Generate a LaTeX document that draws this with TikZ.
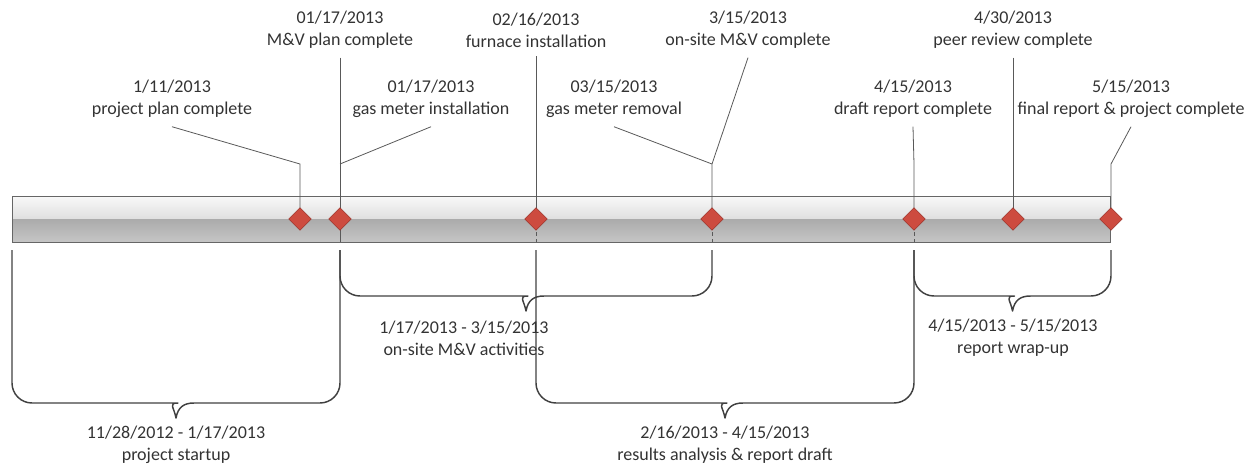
\documentclass[tikz,border=0pt]{standalone}
\usepackage{fontspec}
\setmainfont{Carlito}
\usepackage{tikz}
\usetikzlibrary{shapes.geometric}

\definecolor{msred}{HTML}{CD4B3F}
\definecolor{msedge}{HTML}{9E3128}
\definecolor{txtgray}{HTML}{333333}

\begin{document}
\begin{tikzpicture}[x=0.75pt,y=-0.75pt,
    every node/.style={font=\fontsize{13.5}{16.5}\selectfont,text=txtgray},
    event/.style={align=center,inner sep=6.5pt},
    span/.style={align=center,inner sep=2pt},
    milestone/.style={diamond,aspect=1,draw=msedge,fill=msred,minimum size=17pt,inner sep=0pt},
    leader/.style={draw=black!65,line width=0.6pt},
    bracket/.style={draw=black!75,line width=1.1pt,line join=round}]
    \useasboundingbox (0,0) rectangle (1250,465);

    % Timeline bar
    \shade[top color=gray!5,bottom color=gray!25] (12,196) rectangle (1110,219);
    \shade[top color=gray!66,bottom color=gray!45] (12,219) rectangle (1110,242);
    \draw[gray!80!black,line width=0.5pt] (12,196) rectangle (1110,242);
    \coordinate (barbottom) at (0,242);

    % Milestone positions on the bar
    \coordinate (pplan)    at (300,219);
    \coordinate (pmvplan)  at (340,219);
    \coordinate (pfurnace) at (536,219);
    \coordinate (ponsite)  at (712,219);
    \coordinate (pdraft)   at (914,219);
    \coordinate (ppeer)    at (1013,219);
    \coordinate (pfinal)   at (1111,219);

    % Event labels
    \node[event] (lplan)    at (172,99)  {1/11/2013\\project plan complete};
    \node[event] (lmvplan)  at (340,30)  {01/17/2013\\M\&V plan complete};
    \node[event] (lgasin)   at (431,99)  {01/17/2013\\gas meter installation};
    \node[event] (lfurnace) at (536,30)  {02/16/2013\\furnace installation};
    \node[event] (lgasout)  at (614,99)  {03/15/2013\\gas meter removal};
    \node[event] (lonsite)  at (748,30)  {3/15/2013\\on-site M\&V complete};
    \node[event] (ldraft)   at (913,99)  {4/15/2013\\draft report complete};
    \node[event] (lpeer)    at (1013,30) {4/30/2013\\peer review complete};
    \node[event] (lfinal)   at (1131,99) {5/15/2013\\final report \& project complete};

    % Leader lines
    \coordinate (kplan)   at (300,164);
    \coordinate (kgasin)  at (340,164);
    \coordinate (kgasout) at (712,164);
    \coordinate (konsite) at (712,164);
    \coordinate (kdraft)  at (914,164);
    \coordinate (kfinal)  at (1111,164);
    \draw[leader] (lplan.south) -- (kplan) -- (pplan);
    \draw[leader] (lmvplan.south) -- (pmvplan);
    \draw[leader] (lgasin.south) -- (kgasin);
    \draw[leader] (lfurnace.south) -- (pfurnace);
    \draw[leader] (lgasout.south) -- (kgasout);
    \draw[leader] (lonsite.south) -- (konsite) -- (ponsite);
    \draw[leader] (ldraft.south) -- (kdraft) -- (pdraft);
    \draw[leader] (lpeer.south) -- (ppeer);
    \draw[leader] (lfinal.south) -- (kfinal) -- (pfinal);

    % continuation through the bar
    \draw[leader] (pmvplan) -- (pmvplan |- barbottom);
    \foreach \p in {furnace,onsite,draft}
        \draw[leader,dash pattern=on 3pt off 2pt] (p\p) -- (p\p |- barbottom);

    % Milestones
    \foreach \p in {plan,mvplan,furnace,onsite,draft,peer,final}
        \node[milestone] (m\p) at (p\p) {};

    % Braces below the bar
    \foreach \xa/\xb/\yb in {12/340/403, 340/712/296, 536/914/403, 914/1111/296} {
        \pgfmathsetmacro\xm{(\xa+\xb)/2}
        \draw[bracket] (\xa,250) [rounded corners=15pt] -- (\xa,\yb) -- (\xm-18,\yb)
            [sharp corners] .. controls (\xm-8,\yb) and (\xm-2,\yb+4) .. (\xm,\yb+15)
            .. controls (\xm+2,\yb+4) and (\xm+8,\yb) .. (\xm+18,\yb)
            [rounded corners=15pt] -- (\xb,\yb) -- (\xb,250);
    }

    % Span labels
    \node[span] (sstartup) at (176,445)  {11/28/2012 - 1/17/2013\\project startup};
    \node[span] (sonsite)  at (464,338)  {1/17/2013 - 3/15/2013\\on-site M\&V activities};
    \node[span] (sresults) at (725,445)  {2/16/2013 - 4/15/2013\\results analysis \& report draft};
    \node[span] (swrapup)  at (1013,338) {4/15/2013 - 5/15/2013\\report wrap-up};

\end{tikzpicture}
\end{document}
